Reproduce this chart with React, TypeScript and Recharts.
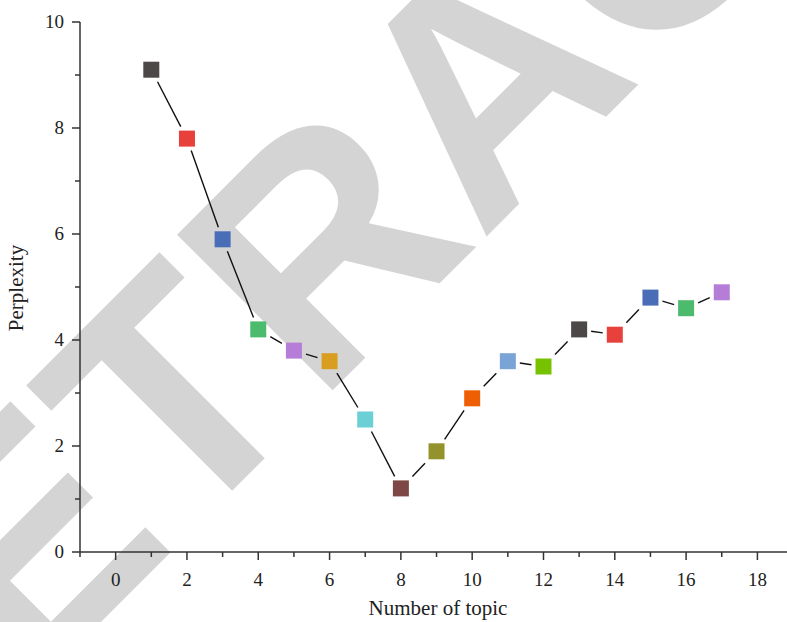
import { LineChart, Line, XAxis, YAxis } from "recharts";

const topics = [1, 2, 3, 4, 5, 6, 7, 8, 9, 10, 11, 12, 13, 14, 15, 16, 17];
const perplexity = [9.1, 7.8, 5.9, 4.2, 3.8, 3.6, 2.5, 1.2, 1.9, 2.9, 3.6, 3.5, 4.2, 4.1, 4.8, 4.6, 4.9];
const markerColors = [
  "#4d4848", "#e8403b", "#4a6db8", "#4dbb6d", "#b57dd8", "#d99e1f",
  "#6bd0d6", "#7d4845", "#94922d", "#ee5e05", "#7aa4d6", "#77c200",
  "#4d4848", "#e8403b", "#4a6db8", "#4dbb6d", "#b57dd8",
];
const xTicks = [-1, 0, 1, 2, 3, 4, 5, 6, 7, 8, 9, 10, 11, 12, 13, 14, 15, 16, 17, 18];
const yTicks = [0, 1, 2, 3, 4, 5, 6, 7, 8, 9, 10];

const data = topics.map((t, i) => ({ topic: t, perplexity: perplexity[i], color: markerColors[i] }));

const FONT = "'Liberation Serif', 'DejaVu Serif', serif";
const AXIS = "#333";

const XTick = (props: any) => {
  const { x, y, payload } = props;
  const v = payload.value;
  const major = v >= 0 && v % 2 === 0;
  return (
    <g>
      <line x1={x} y1={y} x2={x} y2={y + (major ? 8 : 5)} stroke={AXIS} strokeWidth={1.5} />
      {major && (
        <text x={x} y={y + 34} textAnchor="middle" fontFamily={FONT} fontSize={19} fill="#222">
          {v}
        </text>
      )}
    </g>
  );
};

const YTick = (props: any) => {
  const { x, y, payload } = props;
  const v = payload.value;
  const major = v % 2 === 0;
  return (
    <g>
      <line x1={x} y1={y} x2={x - (major ? 8 : 5)} y2={y} stroke={AXIS} strokeWidth={1.5} />
      {major && (
        <text x={x - 16} y={y + 6} textAnchor="end" fontFamily={FONT} fontSize={19} fill="#222">
          {v}
        </text>
      )}
    </g>
  );
};

// square marker + the line piece to the next point, with a small gap at both ends
const SquareDot = (props: any) => {
  const { cx, cy, payload, index, points } = props;
  if (cx == null || cy == null) return null;
  const next = points && points[index + 1];
  let seg = null;
  if (next) {
    const dx = next.x - cx;
    const dy = next.y - cy;
    const g = 12 / Math.max(Math.abs(dx), Math.abs(dy));
    seg = (
      <line
        x1={cx + dx * g}
        y1={cy + dy * g}
        x2={next.x - dx * g}
        y2={next.y - dy * g}
        stroke="#111"
        strokeWidth={1.4}
      />
    );
  }
  return (
    <g>
      {seg}
      <rect x={cx - 8} y={cy - 8} width={16} height={16} fill={payload.color} />
    </g>
  );
};

export default function App() {
  return (
    <div style={{ position: "absolute", left: 0, top: 0, width: 787, height: 622, background: "#fff", overflow: "hidden" }}>
      <svg width={787} height={622} style={{ position: "absolute", left: 0, top: 0 }}>
        <text
          x={-135}
          y={858}
          transform="rotate(-45 -135 858)"
          fontFamily="'Liberation Sans', Arial, sans-serif"
          fontWeight="bold"
          fontSize={320}
          fill="#d4d4d4"
        >
          RETRACTED
        </text>
      </svg>
      <div style={{ position: "absolute", left: 0, top: 0 }}>
        <LineChart width={787} height={622} data={data} margin={{ top: 22, right: 0, left: 20, bottom: 0 }}>
          <XAxis
            dataKey="topic"
            type="number"
            domain={[-1, 18.83]}
            allowDataOverflow
            ticks={xTicks}
            interval={0}
            tickSize={0}
            tickMargin={0}
            tick={<XTick />}
            height={70}
            stroke={AXIS}
            strokeWidth={1.5}
          />
          <YAxis
            type="number"
            domain={[0, 10]}
            ticks={yTicks}
            interval={0}
            tickSize={0}
            tickMargin={0}
            tick={<YTick />}
            width={60}
            stroke={AXIS}
            strokeWidth={1.5}
          />
          <Line
            dataKey="perplexity"
            stroke="none"
            dot={<SquareDot />}
            activeDot={false}
            isAnimationActive={false}
          />
        </LineChart>
      </div>
      <svg width={787} height={622} style={{ position: "absolute", left: 0, top: 0, pointerEvents: "none" }}>
        <text x={438} y={615} textAnchor="middle" fontFamily={FONT} fontSize={21} fill="#222">
          Number of topic
        </text>
        <text
          x={18}
          y={288}
          transform="rotate(-90 18 288)"
          textAnchor="middle"
          dominantBaseline="middle"
          fontFamily={FONT}
          fontSize={21}
          fill="#222"
        >
          Perplexity
        </text>
      </svg>
    </div>
  );
}
